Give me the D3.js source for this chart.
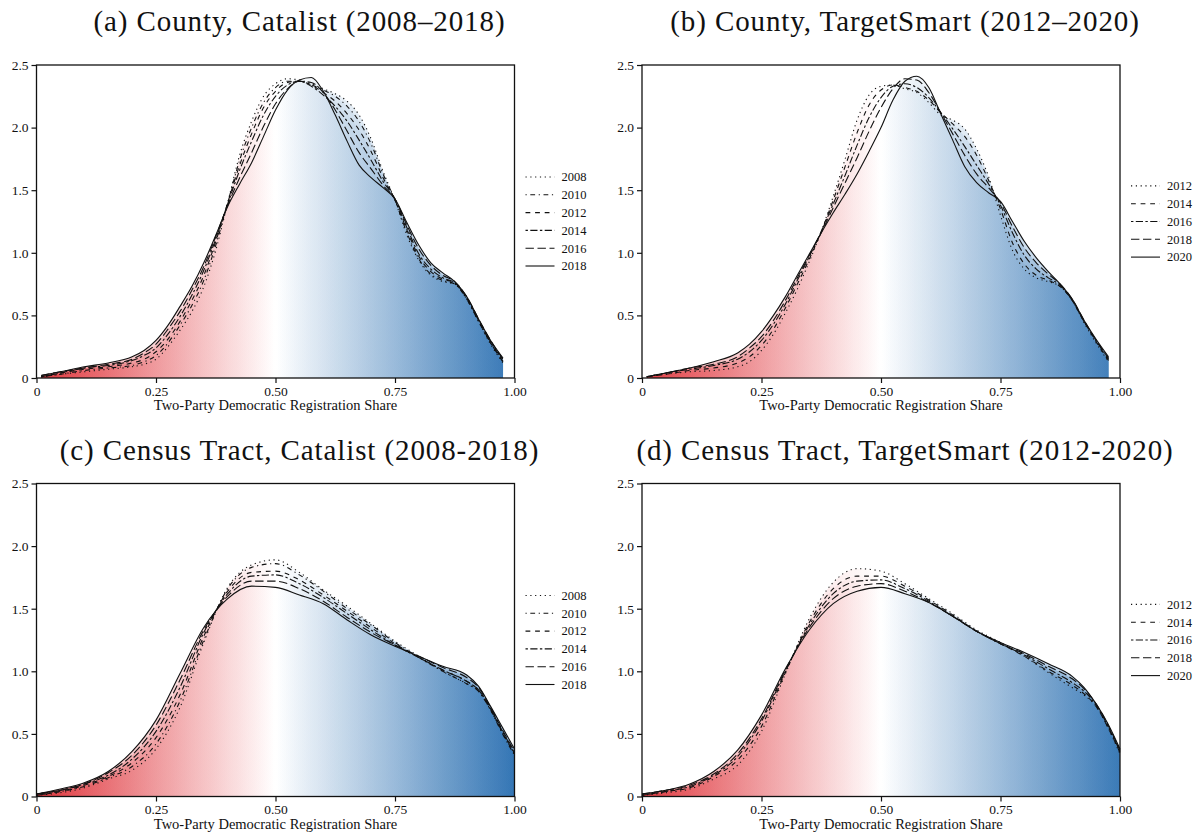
<!DOCTYPE html>
<html>
<head>
<meta charset="utf-8">
<script src="https://cdn.jsdelivr.net/npm/d3@7"></script>
<style>
  body { margin: 0; background: #fff; }
  svg { display: block; }
  text { font-family: "Liberation Serif", "Times New Roman", serif; fill: #111; }
</style>
</head>
<body>
<svg id="chart" width="1199" height="834"></svg>
<script>
// ---- grids of registration share (x) ----
const countyX = [0.01,0.05,0.10,0.15,0.20,0.225,0.25,0.275,0.30,0.325,0.35,0.375,0.40,0.425,0.45,0.475,0.50,0.525,0.55,0.575,0.60,0.625,0.65,0.675,0.70,0.725,0.75,0.775,0.80,0.825,0.85,0.875,0.90,0.925,0.95,0.976];
const tractX = [0,0.05,0.10,0.15,0.20,0.25,0.30,0.35,0.40,0.45,0.50,0.55,0.60,0.65,0.70,0.75,0.80,0.85,0.90,0.925,0.95,0.975,1.0];

// ---- year labels ----
const catalistYears = ["2008","2010","2012","2014","2016","2018"];
const targetSmartYears = ["2012","2014","2016","2018","2020"];

// ---- tick labels ----
const yTicks = [0, 0.5, 1.0, 1.5, 2.0, 2.5];
const yTickLabels = ["0","0.5","1.0","1.5","2.0","2.5"];
const xTicks = [0, 0.25, 0.5, 0.75, 1.0];
const xTickLabels = ["0","0.25","0.50","0.75","1.00"];

// ---- (a) County, Catalist densities ----
const countyCat2008 = [0.01,0.03,0.05,0.07,0.09,0.11,0.15,0.25,0.38,0.53,0.73,1.02,1.40,1.78,2.05,2.25,2.35,2.39,2.38,2.35,2.31,2.27,2.21,2.10,1.91,1.65,1.42,1.14,0.94,0.82,0.77,0.75,0.63,0.45,0.27,0.12];
const countyCat2010 = [0.01,0.03,0.06,0.08,0.10,0.13,0.18,0.28,0.42,0.58,0.78,1.06,1.40,1.74,2.00,2.20,2.32,2.37,2.37,2.34,2.30,2.25,2.17,2.05,1.87,1.63,1.42,1.16,0.95,0.83,0.78,0.75,0.63,0.45,0.28,0.13];
const countyCat2012 = [0.01,0.04,0.07,0.09,0.12,0.15,0.21,0.31,0.45,0.62,0.82,1.09,1.40,1.70,1.95,2.16,2.29,2.36,2.37,2.34,2.28,2.21,2.11,1.98,1.81,1.60,1.42,1.18,0.97,0.85,0.79,0.76,0.64,0.46,0.28,0.13];
const countyCat2014 = [0.01,0.04,0.08,0.10,0.14,0.18,0.24,0.35,0.49,0.66,0.86,1.11,1.39,1.66,1.89,2.10,2.25,2.34,2.37,2.33,2.26,2.17,2.05,1.90,1.74,1.57,1.43,1.20,0.99,0.87,0.80,0.76,0.64,0.46,0.29,0.14];
const countyCat2016 = [0.02,0.05,0.08,0.11,0.15,0.20,0.27,0.39,0.53,0.70,0.89,1.13,1.38,1.60,1.80,2.01,2.19,2.31,2.37,2.36,2.28,2.14,1.97,1.80,1.67,1.54,1.43,1.22,1.03,0.90,0.82,0.77,0.65,0.47,0.30,0.15];
const countyCat2018 = [0.02,0.05,0.09,0.12,0.17,0.22,0.30,0.42,0.57,0.73,0.92,1.14,1.37,1.55,1.72,1.93,2.14,2.30,2.38,2.40,2.29,2.10,1.89,1.70,1.60,1.52,1.43,1.24,1.06,0.92,0.84,0.77,0.65,0.47,0.30,0.16];

// ---- (b) County, TargetSmart densities ----
const countyTS2012 = [0.01,0.03,0.05,0.06,0.09,0.13,0.22,0.35,0.52,0.71,0.93,1.17,1.45,1.75,2.06,2.26,2.33,2.34,2.31,2.28,2.20,2.10,2.06,1.99,1.83,1.61,1.30,1.02,0.87,0.80,0.77,0.73,0.62,0.44,0.28,0.13];
const countyTS2014 = [0.01,0.03,0.06,0.08,0.12,0.17,0.26,0.39,0.56,0.75,0.95,1.17,1.42,1.69,1.96,2.18,2.30,2.34,2.32,2.29,2.22,2.12,2.03,1.93,1.78,1.58,1.35,1.08,0.91,0.82,0.78,0.73,0.62,0.45,0.29,0.14];
const countyTS2016 = [0.01,0.04,0.07,0.10,0.15,0.21,0.30,0.43,0.59,0.78,0.97,1.17,1.39,1.62,1.86,2.08,2.24,2.33,2.35,2.32,2.24,2.12,1.99,1.85,1.70,1.55,1.38,1.16,0.98,0.87,0.80,0.74,0.62,0.45,0.30,0.15];
const countyTS2018 = [0.01,0.04,0.08,0.11,0.17,0.24,0.33,0.46,0.62,0.80,0.98,1.16,1.36,1.56,1.76,1.97,2.16,2.31,2.39,2.38,2.28,2.12,1.95,1.78,1.63,1.52,1.40,1.21,1.04,0.92,0.83,0.75,0.63,0.46,0.30,0.16];
const countyTS2020 = [0.01,0.04,0.08,0.13,0.20,0.27,0.37,0.50,0.65,0.82,0.99,1.16,1.32,1.47,1.63,1.81,2.00,2.22,2.37,2.41,2.32,2.11,1.90,1.69,1.56,1.48,1.41,1.25,1.09,0.96,0.85,0.75,0.63,0.46,0.31,0.17];

// ---- (c) Census Tract, Catalist densities ----
const tractCat2008 = [0.01,0.03,0.07,0.14,0.21,0.38,0.71,1.23,1.67,1.85,1.89,1.79,1.65,1.52,1.38,1.24,1.12,1.00,0.90,0.84,0.69,0.51,0.34];
const tractCat2010 = [0.01,0.04,0.08,0.15,0.24,0.42,0.76,1.25,1.66,1.83,1.86,1.77,1.64,1.50,1.37,1.23,1.11,1.00,0.90,0.84,0.69,0.50,0.33];
const tractCat2012 = [0.01,0.04,0.09,0.16,0.27,0.47,0.81,1.28,1.64,1.79,1.80,1.73,1.61,1.48,1.35,1.22,1.11,1.01,0.92,0.85,0.70,0.51,0.34];
const tractCat2014 = [0.02,0.05,0.10,0.17,0.30,0.52,0.87,1.31,1.62,1.76,1.77,1.70,1.59,1.46,1.33,1.21,1.11,1.01,0.92,0.85,0.70,0.52,0.35];
const tractCat2016 = [0.02,0.05,0.10,0.19,0.33,0.57,0.93,1.33,1.60,1.72,1.72,1.66,1.56,1.43,1.31,1.21,1.12,1.03,0.95,0.87,0.71,0.53,0.36];
const tractCat2018 = [0.02,0.06,0.11,0.20,0.36,0.61,0.98,1.35,1.58,1.68,1.67,1.61,1.54,1.41,1.29,1.20,1.12,1.04,0.97,0.88,0.72,0.55,0.38];

// ---- (d) Census Tract, TargetSmart densities ----
const tractTS2012 = [0.01,0.03,0.06,0.14,0.25,0.52,0.98,1.42,1.71,1.82,1.80,1.70,1.58,1.46,1.33,1.23,1.12,0.99,0.87,0.81,0.72,0.55,0.34];
const tractTS2014 = [0.01,0.04,0.07,0.16,0.29,0.56,0.99,1.39,1.66,1.76,1.76,1.68,1.57,1.45,1.32,1.22,1.12,1.00,0.89,0.82,0.72,0.55,0.35];
const tractTS2016 = [0.01,0.04,0.08,0.17,0.32,0.60,1.00,1.37,1.62,1.72,1.73,1.66,1.56,1.44,1.32,1.22,1.13,1.02,0.91,0.84,0.73,0.56,0.36];
const tractTS2018 = [0.02,0.05,0.09,0.18,0.34,0.62,1.01,1.35,1.58,1.68,1.70,1.64,1.55,1.44,1.32,1.22,1.14,1.04,0.94,0.86,0.74,0.57,0.37];
const tractTS2020 = [0.02,0.05,0.10,0.20,0.37,0.65,1.02,1.33,1.54,1.64,1.67,1.62,1.55,1.44,1.32,1.23,1.15,1.06,0.96,0.87,0.74,0.58,0.38];

// ---- line types (R-style) ----
const dashStyles = {
  dotted:   "1.2,3.6",
  dotdash:  "1.2,3.6,4.8,3.6",
  dashed:   "4.8,4.8",
  twodash:  "2.4,2.4,7.2,2.4",
  longdash: "8.4,3.6",
  solid:    null
};
const catalistLty = ["dotted","dotdash","dashed","twodash","longdash","solid"];
const targetSmartLty = ["dotted","dashed","twodash","longdash","solid"];

const panels = [
  { id: "a", title: "(a) County, Catalist (2008\u20132018)", left: 36.5, top: 65, titleY: 31, xs: countyX,
    years: catalistYears, lty: catalistLty,
    series: [countyCat2008, countyCat2010, countyCat2012, countyCat2014, countyCat2016, countyCat2018] },
  { id: "b", title: "(b) County, TargetSmart (2012\u20132020)", left: 642, top: 65, titleY: 31, xs: countyX,
    years: targetSmartYears, lty: targetSmartLty,
    series: [countyTS2012, countyTS2014, countyTS2016, countyTS2018, countyTS2020] },
  { id: "c", title: "(c) Census Tract, Catalist (2008-2018)", left: 36.5, top: 483.5, titleY: 460, xs: tractX,
    years: catalistYears, lty: catalistLty,
    series: [tractCat2008, tractCat2010, tractCat2012, tractCat2014, tractCat2016, tractCat2018] },
  { id: "d", title: "(d) Census Tract, TargetSmart (2012-2020)", left: 642, top: 483.5, titleY: 460, xs: tractX,
    years: targetSmartYears, lty: targetSmartLty,
    series: [tractTS2012, tractTS2014, tractTS2016, tractTS2018, tractTS2020] }
];

const W = 478, H = 313;
const svg = d3.select("#chart");
const defs = svg.append("defs");

panels.forEach(p => {
  const g = svg.append("g").attr("transform", `translate(${p.left},${p.top})`);
  const x = d3.scaleLinear().domain([0, 1]).range([0, W]);
  const y = d3.scaleLinear().domain([0, 2.5]).range([H, 0]);

  // red - white - blue horizontal gradient across the share axis
  const gid = "grad-" + p.id;
  const grad = defs.append("linearGradient").attr("id", gid)
    .attr("gradientUnits", "userSpaceOnUse")
    .attr("x1", x(0)).attr("x2", x(1)).attr("y1", 0).attr("y2", 0);
  grad.append("stop").attr("offset", "0%").attr("stop-color", "#de2c33");
  grad.append("stop").attr("offset", "50%").attr("stop-color", "#ffffff");
  grad.append("stop").attr("offset", "100%").attr("stop-color", "#2a6fb1");

  const rows = p.series.map(vals => vals.map((v, i) => ({ x: p.xs[i], d: v })));

  const area = d3.area().curve(d3.curveMonotoneX)
    .x(d => x(d.x)).y0(y(0)).y1(d => y(d.d));
  const line = d3.line().curve(d3.curveMonotoneX)
    .x(d => x(d.x)).y(d => y(d.d));

  // stacked translucent fills, one per year
  g.append("g").selectAll("path").data(rows).join("path")
    .attr("d", area)
    .attr("fill", `url(#${gid})`)
    .attr("fill-opacity", 0.4);

  // density curves
  g.append("g").selectAll("path").data(rows).join("path")
    .attr("d", line)
    .attr("fill", "none")
    .attr("stroke", "#111")
    .attr("stroke-width", 1.1)
    .attr("stroke-dasharray", (d, i) => dashStyles[p.lty[i]]);

  // frame
  g.append("rect").attr("x", 0).attr("y", 0).attr("width", W).attr("height", H)
    .attr("fill", "none").attr("stroke", "#111").attr("stroke-width", 1.3);

  // axes
  const yAxis = d3.axisLeft(y).tickValues(yTicks).tickSize(5).tickPadding(3)
    .tickFormat((d, i) => yTickLabels[i]);
  const ya = g.append("g").call(yAxis);
  const xAxis = d3.axisBottom(x).tickValues(xTicks).tickSize(5).tickPadding(3)
    .tickFormat((d, i) => xTickLabels[i]);
  const xa = g.append("g").attr("transform", `translate(0,${H})`).call(xAxis);
  [ya, xa].forEach(a => {
    a.select(".domain").remove();
    a.selectAll("line").attr("stroke", "#111").attr("stroke-width", 1.2);
    a.selectAll("text").style("font-family", "'Liberation Serif', serif")
      .style("font-size", "13.5px").attr("fill", "#111");
  });

  g.append("text").attr("x", W / 2).attr("y", H + 32).attr("text-anchor", "middle")
    .style("font-size", "14.5px").text("Two-Party Democratic Registration Share");

  // title
  svg.append("text").attr("x", p.left + 263).attr("y", p.titleY)
    .attr("text-anchor", "middle").style("font-size", "29px")
    .style("letter-spacing", "0.9px").text(p.title);

  // legend
  const n = p.years.length, step = 17.8;
  const ly0 = H / 2 - (n - 1) * step / 2;
  const lg = g.append("g").attr("transform", `translate(${W + 11},${ly0})`);
  p.years.forEach((yr, i) => {
    lg.append("line").attr("x1", 0).attr("x2", 29).attr("y1", i * step).attr("y2", i * step)
      .attr("stroke", "#111").attr("stroke-width", 1.1)
      .attr("stroke-dasharray", dashStyles[p.lty[i]]);
    lg.append("text").attr("x", 36).attr("y", i * step).attr("dy", "0.35em")
      .style("font-size", "12.5px").text(yr);
  });
});
</script>
</body>
</html>
